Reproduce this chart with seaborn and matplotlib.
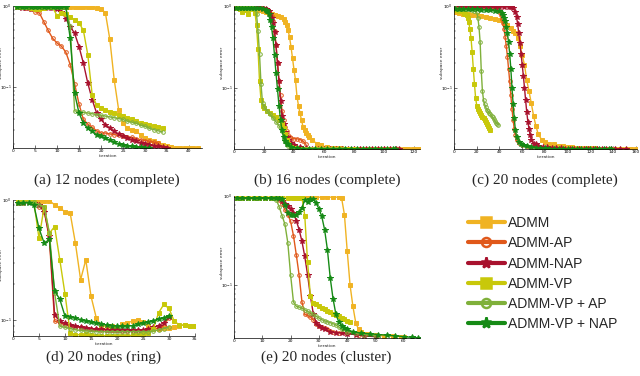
#!/usr/bin/env python3
import pandas as pd
import matplotlib
matplotlib.use("Agg")
import matplotlib.pyplot as plt
import seaborn as sns
from matplotlib.lines import Line2D
from matplotlib.ticker import MultipleLocator, NullFormatter

sns.set_theme(style="ticks")
plt.rcParams["font.family"] = ["DejaVu Sans"]
plt.rcParams["xtick.direction"] = "in"
plt.rcParams["ytick.direction"] = "in"

METHODS = ["ADMM", "ADMM-AP", "ADMM-NAP", "ADMM-VP", "ADMM-VP + AP", "ADMM-VP + NAP"]
COLORS = {"ADMM": "#F0B323", "ADMM-AP": "#E0581A", "ADMM-NAP": "#A8122E",
          "ADMM-VP": "#C8C80A", "ADMM-VP + AP": "#7FB03A", "ADMM-VP + NAP": "#158A15"}
MARKERS = {"ADMM": "s", "ADMM-AP": "o", "ADMM-NAP": "*",
           "ADMM-VP": "s", "ADMM-VP + AP": "o", "ADMM-VP + NAP": "*"}
OPEN = ["ADMM-AP", "ADMM-VP + AP"]

# (a) 12 nodes (complete): one value per iteration, starting at 1
A_ERR = {
    "ADMM": [0.97, 0.97, 0.96, 0.97, 0.97, 0.96, 0.97, 0.97, 0.96, 0.97, 0.97, 0.97, 0.96, 0.97,
             0.97, 0.97, 0.96, 0.96, 0.95, 0.93, 0.82, 0.39, 0.123, 0.053, 0.036, 0.031, 0.030,
             0.0285, 0.026, 0.0236, 0.0225, 0.0215, 0.0205, 0.0195, 0.0186, 0.0182, 0.0180,
             0.0180, 0.0180, 0.0180, 0.0180, 0.0180],
    "ADMM-AP": [0.96, 0.96, 0.95, 0.93, 0.85, 0.82, 0.64, 0.50, 0.40, 0.35, 0.32, 0.27, 0.19, 0.11,
                0.062, 0.040, 0.035, 0.032, 0.029, 0.0272, 0.0272, 0.0265, 0.026, 0.0255, 0.025,
                0.0245, 0.024, 0.0233, 0.0225, 0.022, 0.0215, 0.021, 0.0205],
    "ADMM-NAP": [0.96, 0.95, 0.94, 0.93, 0.93, 0.93, 0.94, 0.94, 0.95, 0.93, 0.85, 0.70, 0.557, 0.461,
                 0.316, 0.197, 0.112, 0.070, 0.048, 0.040, 0.0345, 0.0314, 0.0285, 0.0266, 0.0247,
                 0.0236, 0.0225, 0.0215, 0.0205, 0.0200, 0.0195, 0.0190, 0.0186, 0.0182, 0.0180],
    "ADMM-VP": [0.96, 0.96, 0.96, 0.95, 0.92, 0.93, 0.95, 0.96, 0.96, 0.76, 0.82, 0.80, 0.74, 0.67,
                0.62, 0.50, 0.25, 0.080, 0.060, 0.056, 0.053, 0.050, 0.048, 0.046, 0.044, 0.042,
                0.040, 0.038, 0.036, 0.035, 0.034, 0.033, 0.032, 0.031],
    "ADMM-VP + AP": [0.96, 0.96, 0.96, 0.96, 0.96, 0.96, 0.96, 0.96, 0.96, 0.96, 0.96, 0.96, 0.56,
                     0.051, 0.050, 0.049, 0.048, 0.047, 0.046, 0.045, 0.044, 0.043, 0.042, 0.041,
                     0.040, 0.038, 0.037, 0.036, 0.034, 0.033, 0.031, 0.030, 0.029, 0.028],
    "ADMM-VP + NAP": [0.97, 0.97, 0.97, 0.97, 0.97, 0.97, 0.97, 0.97, 0.97, 0.97, 0.97, 0.97, 0.40,
                      0.084, 0.048, 0.036, 0.031, 0.0285, 0.026, 0.0247, 0.0236, 0.0222, 0.021,
                      0.020, 0.0195, 0.019, 0.0186, 0.0183, 0.0181, 0.0180, 0.0180],
}

# (d) 20 nodes (ring): one value per iteration, starting at 1
D_ERR = {
    "ADMM": [0.969, 0.98, 0.985, 0.99, 0.98, 0.99, 0.99, 0.91, 0.853, 0.80, 0.775, 0.437, 0.217,
             0.318, 0.158, 0.105, 0.089, 0.089, 0.089, 0.0865, 0.092, 0.095, 0.098, 0.100, 0.096,
             0.089, 0.085, 0.084, 0.0865, 0.0865, 0.088, 0.090, 0.091, 0.090, 0.089],
    "ADMM-AP": [0.94, 0.95, 0.97, 0.97, 0.88, 0.83, 0.47, 0.098, 0.095, 0.092, 0.089, 0.088, 0.087,
                0.086, 0.085, 0.084, 0.083, 0.083, 0.082, 0.082, 0.081, 0.081, 0.081, 0.081, 0.081,
                0.082, 0.084, 0.086, 0.090, 0.105],
    "ADMM-NAP": [0.95, 0.96, 0.97, 0.95, 0.90, 0.80, 0.50, 0.11, 0.098, 0.094, 0.091, 0.089, 0.087,
                 0.086, 0.085, 0.084, 0.084, 0.083, 0.083, 0.082, 0.082, 0.082, 0.082, 0.083, 0.083,
                 0.084, 0.087, 0.090, 0.095, 0.107],
    "ADMM-VP": [0.96, 0.99, 0.985, 0.97, 0.48, 0.88, 0.53, 0.60, 0.318, 0.165, 0.078, 0.0755, 0.0755,
                0.076, 0.075, 0.074, 0.074, 0.074, 0.074, 0.074, 0.074, 0.074, 0.075, 0.075, 0.076,
                0.078, 0.085, 0.115, 0.135, 0.125, 0.098, 0.091, 0.091, 0.090, 0.089],
    "ADMM-VP + AP": [0.95, 0.96, 0.96, 0.96, 0.91, 0.88, 0.53, 0.169, 0.089, 0.087, 0.085, 0.083,
                     0.082, 0.081, 0.081, 0.080, 0.080, 0.080, 0.080, 0.080, 0.080, 0.080, 0.080,
                     0.080, 0.080, 0.080, 0.081, 0.083, 0.085, 0.088],
    "ADMM-VP + NAP": [0.94, 0.94, 0.95, 0.91, 0.58, 0.437, 0.47, 0.175, 0.149, 0.108, 0.107, 0.104,
                      0.101, 0.098, 0.096, 0.094, 0.092, 0.091, 0.090, 0.089, 0.089, 0.089, 0.090,
                      0.092, 0.094, 0.096, 0.099, 0.102, 0.105, 0.108],
}

# (b) 16 nodes (complete): iteration / error pairs
B_IT = {
    "ADMM": [1, 3, 5, 7, 9, 11, 13, 15, 17, 19, 21, 23, 25, 27, 29, 31, 33, 34, 35, 36, 37, 38, 39,
             40, 41, 42, 43, 44, 45, 46, 47, 48, 49, 50, 52, 55, 58, 62, 65, 68, 71, 74, 77, 80, 83,
             86, 89, 92, 95, 98, 101, 104, 107, 110, 113, 116, 119, 122, 124],
    "ADMM-AP": [1, 3, 5, 7, 9, 11, 13, 15, 17, 19, 21, 22, 23, 24, 25, 26, 27, 28, 29, 30, 31, 32,
                33, 34, 35, 36, 37, 38, 40, 42, 44, 46, 48],
    "ADMM-NAP": [1, 3, 5, 7, 9, 11, 13, 15, 17, 19, 21, 22, 23, 24, 25, 26, 27, 28, 29, 30, 31, 32,
                 33, 34, 35, 36, 38, 40, 44, 48, 52, 56, 60, 64, 68, 72, 76, 80, 84, 88, 92, 96, 100,
                 104, 108, 110],
    "ADMM-VP": [1, 3, 4, 5, 6, 7, 8, 9, 10, 11, 12, 13, 14, 15, 16, 17, 18, 19, 20, 22, 24, 26, 28,
                30, 32, 33, 34, 35, 36, 38, 41, 44, 48, 52, 56, 60, 64, 68, 72, 76, 80],
    "ADMM-VP + AP": [1, 3, 5, 7, 9, 11, 13, 14, 15, 16, 17, 18, 19, 20, 22, 24, 26, 28, 30, 32, 33,
                     34, 35, 36, 38, 41, 44, 48, 52, 56, 60, 64, 68, 72],
    "ADMM-VP + NAP": [1, 3, 5, 7, 9, 11, 13, 15, 17, 19, 21, 22, 23, 24, 25, 26, 27, 28, 29, 30, 31,
                      32, 33, 34, 35, 36, 38, 42, 46, 50, 54, 58, 62, 66, 70, 74, 78, 82, 86, 90, 94,
                      98, 102, 106, 107],
}
B_ERR = {
    "ADMM": [0.95, 0.95, 0.96, 0.95, 0.95, 0.95, 0.94, 0.93, 0.89, 0.87, 0.85, 0.82, 0.80, 0.78,
             0.76, 0.74, 0.69, 0.64, 0.58, 0.51, 0.42, 0.316, 0.23, 0.165, 0.123, 0.077, 0.060,
             0.048, 0.040, 0.033, 0.030, 0.028, 0.026, 0.025, 0.023, 0.0205, 0.0195, 0.0186, 0.0182,
             0.0180, 0.0179, 0.0178, 0.0177, 0.0177, 0.0177, 0.0177, 0.0177, 0.0177, 0.0177, 0.0177,
             0.0177, 0.0177, 0.0177, 0.0177, 0.0177, 0.0177, 0.0177, 0.0177, 0.0177],
    "ADMM-AP": [0.96, 0.95, 0.96, 0.97, 0.96, 0.96, 0.95, 0.96, 0.96, 0.95, 0.92, 0.88, 0.84, 0.80,
                0.75, 0.65, 0.50, 0.33, 0.20, 0.12, 0.08, 0.052, 0.040, 0.033, 0.029, 0.026, 0.025,
                0.024, 0.0235, 0.0235, 0.023, 0.022, 0.020],
    "ADMM-NAP": [0.96, 0.95, 0.96, 0.95, 0.96, 0.97, 0.96, 0.96, 0.95, 0.95, 0.93, 0.90, 0.86, 0.80,
                 0.72, 0.62, 0.48, 0.33, 0.20, 0.12, 0.069, 0.045, 0.036, 0.0285, 0.025, 0.0225,
                 0.021, 0.0195, 0.0186, 0.0180, 0.0178, 0.0177, 0.0177, 0.0177, 0.0177, 0.0177,
                 0.0177, 0.0177, 0.0177, 0.0177, 0.0177, 0.0177, 0.0177, 0.0177, 0.0177, 0.0177],
    "ADMM-VP": [0.95, 0.95, 0.93, 0.85, 0.93, 0.95, 0.90, 0.80, 0.93, 0.94, 0.94, 0.93, 0.82, 0.58,
                0.30, 0.12, 0.070, 0.060, 0.056, 0.052, 0.049, 0.046, 0.043, 0.040, 0.036, 0.032,
                0.027, 0.023, 0.020, 0.0186, 0.0180, 0.0178, 0.0177, 0.0177, 0.0177, 0.0177, 0.0177,
                0.0177, 0.0177, 0.0177, 0.0177],
    "ADMM-VP + AP": [0.95, 0.95, 0.95, 0.94, 0.94, 0.95, 0.95, 0.93, 0.80, 0.50, 0.26, 0.11, 0.065,
                     0.058, 0.052, 0.047, 0.042, 0.038, 0.034, 0.029, 0.025, 0.022, 0.020, 0.019,
                     0.0180, 0.0178, 0.0177, 0.0177, 0.0177, 0.0177, 0.0177, 0.0177, 0.0177, 0.0177],
    "ADMM-VP + NAP": [0.95, 0.95, 0.95, 0.95, 0.95, 0.95, 0.95, 0.95, 0.94, 0.92, 0.89, 0.86, 0.80,
                      0.67, 0.55, 0.40, 0.25, 0.15, 0.095, 0.060, 0.040, 0.030, 0.025, 0.022, 0.0205,
                      0.020, 0.0186, 0.0180, 0.0178, 0.0177, 0.0177, 0.0177, 0.0177, 0.0177, 0.0177,
                      0.0177, 0.0177, 0.0177, 0.0177, 0.0177, 0.0177, 0.0177, 0.0177, 0.0177, 0.0177],
}

# (c) 20 nodes (complete)
C_IT = {
    "ADMM": [1, 4, 8, 12, 16, 20, 24, 28, 32, 36, 40, 44, 47, 50, 52, 54, 56, 58, 60, 62, 64, 66, 68,
             70, 72, 74, 77, 80, 84, 88, 92, 96, 100, 104, 108, 112, 116, 120, 124, 128, 132, 136,
             140, 144, 148, 152, 156, 160],
    "ADMM-AP": [1, 4, 8, 12, 16, 20, 24, 28, 32, 36, 38, 40, 41, 42, 43, 44, 45, 46, 47, 48, 49, 50,
                51, 52, 53, 54, 55, 57, 60, 64, 68, 72, 76, 80, 84, 88, 92, 96, 100, 104, 108, 112,
                116, 120, 124, 128, 132, 136, 140],
    "ADMM-NAP": [1, 4, 8, 12, 16, 20, 24, 28, 32, 36, 40, 44, 48, 50, 52, 54, 55, 56, 57, 58, 59, 60,
                 61, 62, 63, 64, 65, 66, 67, 68, 70, 72, 74, 78, 82, 86, 90, 94, 98, 102, 106, 110,
                 114, 118, 122, 126, 130, 134, 138, 142, 146, 151],
    "ADMM-VP": [1, 4, 7, 9, 10, 11, 12, 13, 14, 15, 16, 17, 18, 19, 20, 21, 22, 23, 24, 25, 26, 27,
                28, 29, 30, 31, 32],
    "ADMM-VP + AP": [1, 4, 8, 12, 16, 18, 20, 21, 22, 23, 24, 25, 26, 27, 28, 29, 30, 31, 32, 33, 34,
                     35, 36, 37, 38, 39],
    "ADMM-VP + NAP": [1, 4, 8, 12, 16, 20, 24, 28, 32, 36, 40, 42, 43, 44, 45, 46, 47, 48, 49, 50, 51,
                      52, 53, 54, 55, 57, 59, 61, 64, 68, 72, 76, 80, 84, 88, 92, 96, 100, 104, 108,
                      112, 116, 120, 124, 128, 132, 136, 138],
}
C_ERR = {
    "ADMM": [0.85, 0.82, 0.80, 0.79, 0.78, 0.77, 0.76, 0.74, 0.72, 0.70, 0.67, 0.62, 0.58, 0.53,
             0.50, 0.46, 0.40, 0.32, 0.25, 0.19, 0.123, 0.090, 0.064, 0.045, 0.034, 0.027, 0.023,
             0.0215, 0.0205, 0.020, 0.0193, 0.019, 0.0187, 0.0185, 0.0183, 0.0182, 0.0180, 0.0180,
             0.0179, 0.0178, 0.0178, 0.0177, 0.0177, 0.0177, 0.0177, 0.0177, 0.0177, 0.0177],
    "ADMM-AP": [0.97, 0.97, 0.98, 0.98, 0.98, 0.98, 0.98, 0.98, 0.97, 0.95, 0.91, 0.84, 0.78, 0.70,
                0.61, 0.52, 0.42, 0.32, 0.24, 0.17, 0.12, 0.080, 0.055, 0.040, 0.031, 0.026, 0.0225,
                0.021, 0.0195, 0.019, 0.0187, 0.0184, 0.0182, 0.0180, 0.0179, 0.0178, 0.0178, 0.0177,
                0.0177, 0.0177, 0.0177, 0.0177, 0.0177, 0.0177, 0.0177, 0.0177, 0.0177, 0.0177,
                0.0177],
    "ADMM-NAP": [0.96, 0.96, 0.96, 0.96, 0.96, 0.96, 0.96, 0.96, 0.97, 0.97, 0.97, 0.98, 0.98, 0.97,
                 0.94, 0.85, 0.74, 0.60, 0.46, 0.35, 0.26, 0.19, 0.14, 0.10, 0.070, 0.050, 0.038,
                 0.031, 0.026, 0.023, 0.0205, 0.020, 0.0193, 0.0188, 0.0185, 0.0182, 0.0180, 0.0179,
                 0.0178, 0.0178, 0.0177, 0.0177, 0.0177, 0.0177, 0.0177, 0.0177, 0.0177, 0.0177,
                 0.0177, 0.0177, 0.0177, 0.0177],
    "ADMM-VP": [0.90, 0.88, 0.86, 0.83, 0.80, 0.77, 0.72, 0.64, 0.52, 0.40, 0.27, 0.17, 0.11, 0.075,
                0.060, 0.055, 0.051, 0.048, 0.046, 0.044, 0.042, 0.040, 0.038, 0.036, 0.034, 0.032,
                0.030],
    "ADMM-VP + AP": [0.94, 0.93, 0.92, 0.91, 0.89, 0.88, 0.84, 0.72, 0.55, 0.36, 0.16, 0.090, 0.070,
                     0.062, 0.057, 0.053, 0.051, 0.049, 0.047, 0.045, 0.043, 0.041, 0.039, 0.037,
                     0.036, 0.035],
    "ADMM-VP + NAP": [0.93, 0.93, 0.92, 0.92, 0.91, 0.91, 0.90, 0.90, 0.89, 0.88, 0.86, 0.83, 0.78,
                      0.72, 0.66, 0.56, 0.46, 0.36, 0.26, 0.17, 0.10, 0.063, 0.042, 0.030, 0.025,
                      0.0215, 0.0203, 0.0195, 0.019, 0.0186, 0.0183, 0.0180, 0.0179, 0.0178, 0.0177,
                      0.0177, 0.0177, 0.0177, 0.0177, 0.0177, 0.0177, 0.0177, 0.0177, 0.0177, 0.0177,
                      0.0177, 0.0177, 0.0177],
}

# (e) 20 nodes (cluster)
E_IT = {
    "ADMM": [1, 3, 5, 7, 9, 11, 13, 15, 17, 19, 21, 23, 25, 27, 29, 31, 33, 35, 37, 38, 39, 40, 41,
             42, 43, 44, 45, 47, 50, 53, 56, 59, 60],
    "ADMM-AP": [1, 3, 5, 7, 9, 11, 13, 15, 16, 17, 18, 19, 20, 21, 22, 23, 24, 25, 26, 27, 28, 29,
                30, 31, 32, 33, 34, 35, 37, 40, 44],
    "ADMM-NAP": [1, 3, 5, 7, 9, 11, 13, 15, 16, 17, 18, 19, 20, 21, 22, 23, 24, 25, 26, 27, 28, 29,
                 30, 31, 32, 34, 36, 38, 40, 43, 46, 50],
    "ADMM-VP": [1, 3, 5, 7, 9, 11, 13, 15, 17, 19, 21, 22, 23, 24, 25, 26, 27, 28, 29, 30, 31, 32,
                33, 34, 35, 36, 37, 38, 39, 40, 41],
    "ADMM-VP + AP": [1, 3, 5, 7, 9, 11, 13, 14, 15, 16, 17, 18, 19, 20, 21, 22, 23, 24, 25, 26, 27,
                     28, 29, 30, 31, 32, 33, 34, 35, 36, 37, 38, 40, 43, 46, 50],
    "ADMM-VP + NAP": [1, 3, 5, 7, 9, 11, 13, 15, 16, 17, 18, 19, 20, 21, 22, 23, 24, 25, 26, 27, 28,
                      29, 30, 31, 32, 33, 34, 35, 36, 37, 38, 39, 40, 42, 45, 48, 51, 54, 57, 60, 63,
                      65],
}
E_ERR = {
    "ADMM": [0.97, 0.97, 0.97, 0.97, 0.97, 0.97, 0.97, 0.97, 0.97, 0.97, 0.97, 0.97, 0.97, 0.97,
             0.97, 0.97, 0.97, 0.97, 0.97, 0.95, 0.62, 0.24, 0.10, 0.058, 0.038, 0.032, 0.030,
             0.0286, 0.0275, 0.027, 0.0268, 0.0265, 0.0263],
    "ADMM-AP": [0.94, 0.94, 0.94, 0.94, 0.94, 0.94, 0.94, 0.94, 0.90, 0.82, 0.70, 0.62, 0.52, 0.36,
                0.22, 0.13, 0.065, 0.047, 0.046, 0.044, 0.041, 0.037, 0.035, 0.034, 0.033, 0.032,
                0.031, 0.030, 0.0295, 0.029, 0.028],
    "ADMM-NAP": [0.94, 0.94, 0.94, 0.94, 0.94, 0.94, 0.94, 0.94, 0.93, 0.88, 0.82, 0.77, 0.71, 0.64,
                 0.53, 0.42, 0.31, 0.21, 0.13, 0.075, 0.048, 0.038, 0.035, 0.033, 0.032, 0.030,
                 0.0295, 0.029, 0.0285, 0.028, 0.027, 0.0265],
    "ADMM-VP": [0.94, 0.94, 0.94, 0.94, 0.94, 0.94, 0.94, 0.94, 0.94, 0.94, 0.94, 0.94, 0.95, 0.97,
                0.60, 0.18, 0.075, 0.064, 0.061, 0.058, 0.056, 0.054, 0.052, 0.050, 0.048, 0.046,
                0.045, 0.043, 0.042, 0.040, 0.039],
    "ADMM-VP + AP": [0.94, 0.94, 0.94, 0.94, 0.94, 0.94, 0.94, 0.94, 0.90, 0.75, 0.60, 0.48, 0.30,
                     0.13, 0.065, 0.058, 0.057, 0.055, 0.053, 0.051, 0.049, 0.047, 0.045, 0.043,
                     0.041, 0.040, 0.039, 0.038, 0.037, 0.036, 0.034, 0.032, 0.030, 0.029, 0.028,
                     0.027],
    "ADMM-VP + NAP": [0.94, 0.94, 0.94, 0.94, 0.94, 0.94, 0.94, 0.94, 0.94, 0.92, 0.80, 0.64, 0.615,
                      0.615, 0.62, 0.66, 0.74, 0.90, 0.86, 0.93, 0.92, 0.83, 0.72, 0.59, 0.42, 0.25,
                      0.12, 0.070, 0.047, 0.039, 0.035, 0.033, 0.032, 0.030, 0.029, 0.0285, 0.028,
                      0.0275, 0.027, 0.0265, 0.026, 0.0258],
}

CAPTIONS = ["(a) 12 nodes (complete)", "(b) 16 nodes (complete)", "(c) 20 nodes (complete)",
            "(d) 20 nodes (ring)", "(e) 20 nodes (cluster)"]


def per_iteration(errs):
    return {m: list(range(1, len(v) + 1)) for m, v in errs.items()}


def to_frame(iters, errs):
    rows = []
    for m in METHODS:
        for it, e in zip(iters[m], errs[m]):
            rows.append({"method": m, "iteration": it, "error": e})
    return pd.DataFrame(rows)


W, H = 640, 376
fig = plt.figure(figsize=(6.4, 3.76), dpi=100)


def px_axes(left, right, top, bottom):
    return fig.add_axes([left / W, 1 - bottom / H, (right - left) / W, (bottom - top) / H])


# data frame, axes box in pixels, x max, y min, x tick step, caption centre, y-label height
panels = [
    (to_frame(per_iteration(A_ERR), A_ERR), (13, 202, 6, 148), 42.95, 0.0178, 5, (107, 180), 0.6),
    (to_frame(B_IT, B_ERR), (234, 420, 6, 149), 124, 0.0176, 20, (327, 180), 0.6),
    (to_frame(C_IT, C_ERR), (454, 637, 6, 149), 161, 0.0176, 20, (545, 180), 0.6),
    (to_frame(per_iteration(D_ERR), D_ERR), (13, 195, 200, 336), 35, 0.0737, 5, (103, 357), 0.52),
    (to_frame(E_IT, E_ERR), (234, 420, 196, 338), 65.7, 0.0256, 10, (326, 357), 0.53),
]

for (df, box, xmax, ymin, xstep, cap_xy, ylab_y), caption in zip(panels, CAPTIONS):
    ax = px_axes(*box[:4])
    for m in METHODS:
        sub = df[df["method"] == m]
        c = COLORS[m]
        star = MARKERS[m] == "*"
        sns.lineplot(data=sub, x="iteration", y="error", ax=ax, color=c,
                     marker=MARKERS[m], markersize=4.0 if star else 2.6,
                     markeredgecolor=c,
                     markerfacecolor="none" if m in OPEN else c,
                     markeredgewidth=0.7, linewidth=1.0,
                     estimator=None, sort=False, legend=False)
    ax.set_yscale("log")
    ax.set_xlim(0, xmax)
    ax.set_ylim(ymin, 1.0)
    ax.xaxis.set_major_locator(MultipleLocator(xstep))
    ax.yaxis.set_minor_formatter(NullFormatter())
    ax.tick_params(which="major", labelsize=3.2, length=2, width=0.4, pad=1, colors="black")
    ax.tick_params(which="minor", length=1.2, width=0.3)
    ax.set_xlabel("iteration", fontsize=3.2, labelpad=0.5)
    ax.set_ylabel("subspace error", fontsize=3.2)
    ax.yaxis.set_label_coords(-9.5 / (box[1] - box[0]), ylab_y)
    sns.despine(ax=ax)
    for s in ("left", "bottom"):
        ax.spines[s].set_linewidth(0.5)
        ax.spines[s].set_color("black")
    fig.text(cap_xy[0] / W, 1 - cap_xy[1] / H, caption, ha="center", va="center",
             fontsize=11, family=["Liberation Serif", "DejaVu Serif"])

handles = [Line2D([], [], color=COLORS[m], lw=3, marker=MARKERS[m],
                  markersize=8 if MARKERS[m] == "*" else 6.5,
                  markerfacecolor="none" if m in OPEN else COLORS[m],
                  markeredgecolor=COLORS[m], markeredgewidth=1.8)
           for m in METHODS]
fig.legend(handles, METHODS, loc="upper left", bbox_to_anchor=(468 / W, 1 - 216 / H),
           frameon=False, borderpad=0, borderaxespad=0, handlelength=2.65,
           handletextpad=0.25, labelspacing=0.45,
           prop={"family": ["Liberation Sans", "DejaVu Sans"], "size": 10})

fig.savefig("out.png", dpi=100)
print("Saved out.png")
